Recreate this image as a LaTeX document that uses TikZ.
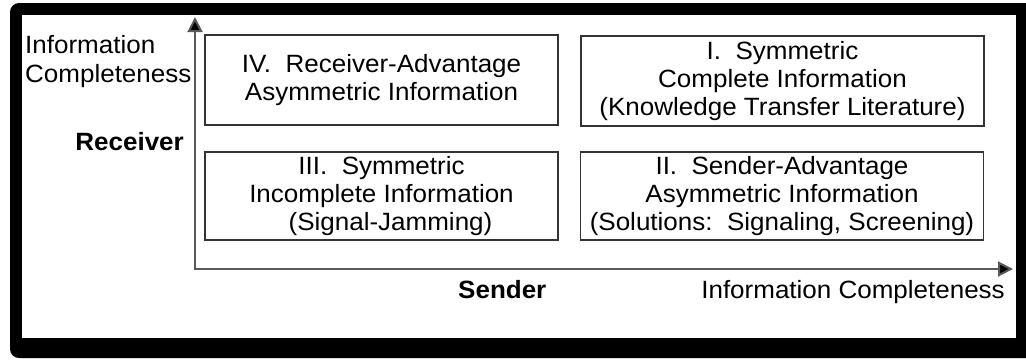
\documentclass[tikz,border=0pt]{standalone}
\usepackage{fontspec}
\setmainfont{Liberation Sans}
\usetikzlibrary{arrows.meta}
% slightly widened lettering
\newcommand\wideline[1]{\scalebox{1.04}[1]{#1}}
\tikzset{
  quad/.style={draw=black!80, line width=1.4pt, inner sep=0pt, align=center,
    font=\fontsize{25}{28}\selectfont},
  axis/.style={draw=black!65, line width=2pt,
    -{Triangle[length=15pt,width=15pt,fill=black]}},
  lbl/.style={inner sep=0pt, font=\fontsize{25}{29}\selectfont},
  boldlbl/.style={lbl, font=\fontsize{25}{29}\selectfont\bfseries},
}
\begin{document}
\begin{tikzpicture}[x=1pt,y=-1pt]
\useasboundingbox (0,0) rectangle (1026,360);
% heavy frame with drop shadow
\fill[black] (1026,3) [rounded corners=9pt] -- (10,3) -- (10,358) [sharp corners] -- (1026,358) -- cycle;
\fill[white] (22,15) rectangle (1016,338);

% the four quadrants
\node[quad, minimum width=353pt, minimum height=90pt] (q4) at (381.5,80)
  {\wideline{IV.\ \ Receiver-Advantage}\\\wideline{Asymmetric Information}};
\node[quad, minimum width=403pt, minimum height=90pt] (q1) at (782.5,81)
  {\wideline{I.\ \ Symmetric}\\\wideline{Complete Information}\\\wideline{(Knowledge Transfer Literature)}};
\node[quad, minimum width=353pt, minimum height=88pt] (q3) at (381.5,196)
  {\wideline{III.\ \ Symmetric}\\\wideline{Incomplete Information}\\\hspace*{18pt}\wideline{(Signal-Jamming)}};
\node[quad, minimum width=403pt, minimum height=88pt] (q2) at (782,196)
  {\wideline{II.\ \ Sender-Advantage}\\\wideline{Asymmetric Information}\\\wideline{(Solutions:\ \ Signaling, Screening)}};

% axes
\coordinate (o) at (195,269);
\coordinate (ocorner) at (194,269);
\coordinate (ytop) at (195,17);
\coordinate (xend) at (1013,269);
\draw[axis] (o) -- (ytop);
\draw[axis] (ocorner) -- (xend);

% axis labels
\node[lbl, anchor=west, align=left] (ylab) at (25,62)
  {\wideline{Information}\\\wideline{Completeness}};
\node[boldlbl, anchor=base east] (recv) at (184,150) {\wideline{Receiver}};
\node[boldlbl, anchor=base west] (send) at (458,298) {\wideline{Sender}};
\node[lbl, anchor=base east] (xlab) at (1005,298) {\wideline{Information Completeness}};
\end{tikzpicture}
\end{document}
